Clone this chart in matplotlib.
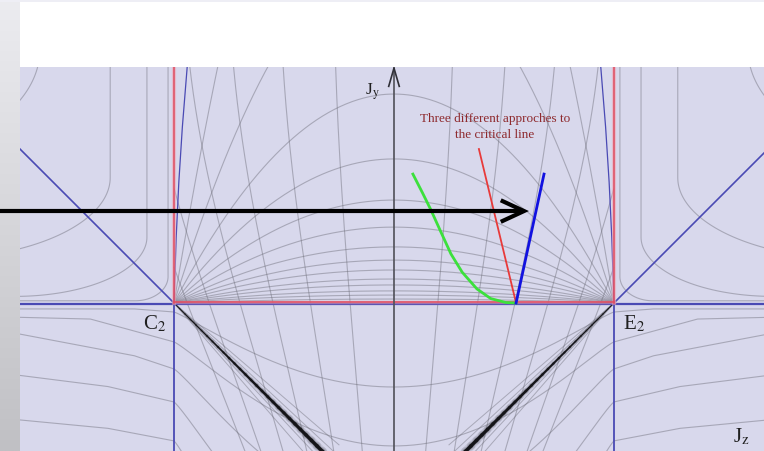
import matplotlib
matplotlib.use("Agg")
import matplotlib.pyplot as plt
import numpy as np
from matplotlib.collections import LineCollection
from matplotlib.patches import Rectangle

plt.rcParams["font.family"] = ["Liberation Serif", "DejaVu Serif"]
plt.rcParams["mathtext.fontset"] = "stix"

# coordinates: C2 at Jz=-1, E2 at Jz=+1, critical line at Jy=0
x_lim = (-1.700, 1.682)
y_lim = (-0.673, 1.073)

# dome flows between C2 and E2 (height at Jz=0)
dome_heights = [0.018, 0.036, 0.055, 0.082, 0.109, 0.15, 0.195, 0.255,
                0.345, 0.468, 0.655, 0.95, 1.6, 3.0]
# near-vertical flows, Jz position where they cross Jy=0
vertical_mid_x = [0.2, 0.38, 0.55, 0.70, 0.84, 0.94]
# valley flows below the critical line
valley_corner_y = [-0.041, -0.177, -0.30, -0.45, -0.627]
valley_center_y = [-0.382, -0.65, -0.95, -1.3, -1.7]
# outer lower flows (u = distance outside the corner)
outer_knee_u = [0.18, 0.38, 0.18, 0.30, 0.30]
outer_knee_y = [-0.027, -0.073, -0.24, -0.38, -0.57]
outer_edge_y = [-0.027, -0.064, -0.132, -0.323, -0.527]
# outer upper rounded flows
lcurve_u0 = [0.027, 0.123, 0.29, 0.61]
lcurve_knee_v = [0.12, 0.30, 0.57, 1.15]
lcurve_flat_v = [0.01, 0.03, 0.20, 0.60]
lcurve_radius_u = [0.15, 0.60, 0.80, 1.00]
# flows hugging the critical diagonals
fan_slopes = [0.86, 0.93, 1.07, 1.15]

# three approaches to the critical point
green_x = [0.086, 0.13, 0.168, 0.21, 0.259, 0.31, 0.377, 0.44, 0.509, 0.555]
green_y = [0.586, 0.50, 0.423, 0.33, 0.223, 0.14, 0.064, 0.02, 0.002, 0.0]
red_x = [0.386, 0.555]
red_y = [0.70, 0.0]
blue_x = [0.682, 0.555]
blue_y = [0.586, 0.0]

# thin blue separatrices near the red verticals
sep_x = [0.94, 0.962, 0.978, 0.99, 1.0]
sep_y = [1.073, 0.8, 0.55, 0.3, 0.0]

GRAY = dict(color="#6c6c78", lw=0.8, alpha=0.45, zorder=2)
BLUE = "#4a4ab4"
RED = "#e04a5e"

fig = plt.figure(figsize=(7.64, 4.52), dpi=100)
fig.patch.set_facecolor("white")
fig.patches.append(Rectangle((0, 1 - 3 / 452), 1, 3 / 452, transform=fig.transFigure,
                             facecolor="#eeeef5", edgecolor="none"))

strip = fig.add_axes([0, 0, 20 / 764, 1])
grad = np.linspace(0, 1, 256).reshape(-1, 1)
strip.imshow(grad, aspect="auto", cmap=matplotlib.colors.LinearSegmentedColormap.from_list(
    "strip", ["#ececf0", "#c0c0c4"]), extent=(0, 1, 0, 1), origin="upper")
strip.axis("off")

ax = fig.add_axes([20 / 764, 0, 744 / 764, 384 / 452])
ax.set_xlim(*x_lim)
ax.set_ylim(*y_lim)
ax.axis("off")
ax.add_patch(Rectangle((x_lim[0], y_lim[0]), x_lim[1] - x_lim[0], y_lim[1] - y_lim[0],
                       facecolor="#d8d8ec", edgecolor="none", zorder=0))

# domes
xs = np.linspace(-1, 1, 300)
for h in dome_heights:
    ax.plot(xs, h * (1 - xs ** 2), **GRAY)

# near-vertical flows
ys = np.linspace(y_lim[0], y_lim[1], 300)
for m in vertical_mid_x:
    for sgn in (-1, 1):
        xv = sgn * m * np.exp(0.4 * ys - 0.128 * ys ** 2)
        xv = np.where(np.abs(xv) > 1.0, np.nan, xv)
        ax.plot(xv, ys, **GRAY)

# valleys
for yc, y0 in zip(valley_corner_y, valley_center_y):
    ax.plot(xs, yc + (y0 - yc) * (1 - xs ** 2) ** 1.15, **GRAY)

# outer lower flows
for yc, ku, ky, ey in zip(valley_corner_y, outer_knee_u, outer_knee_y, outer_edge_y):
    for sgn in (-1, 1):
        ax.plot([sgn * 1.0, sgn * (1 + ku), sgn * 1.75], [yc, ky, ey], **GRAY)

# outer upper rounded flows
theta = np.linspace(0, np.pi / 2, 80)
for u0, vk, v0, ru in zip(lcurve_u0, lcurve_knee_v, lcurve_flat_v, lcurve_radius_u):
    u = np.concatenate([[u0], u0 + ru * (1 - np.cos(theta)), [1.0]])
    v = np.concatenate([[1.2], v0 + (vk - v0) * (1 - np.sin(theta)), [v0]])
    for sgn in (-1, 1):
        ax.plot(sgn * (1 + u), v, **GRAY)

# fan lines around the critical diagonals
for s in fan_slopes:
    for sgn in (-1, 1):
        ax.plot([sgn * 1.0, sgn * 0.25], [0, -s * 0.75], color="#60606a", lw=0.7,
                alpha=0.4, zorder=2)

# black diagonals, thickening away from the corners
for sgn in (-1, 1):
    t = np.linspace(0, 0.75, 31)
    px = sgn * (1 - t)
    py = -t
    segs = [[(px[i], py[i]), (px[i + 1], py[i + 1])] for i in range(len(t) - 1)]
    widths = np.linspace(0.6, 2.8, len(segs))
    ax.add_collection(LineCollection(segs, linewidths=widths * 2.4, colors="#303038",
                                     alpha=0.12, zorder=3, capstyle="round"))
    ax.add_collection(LineCollection(segs, linewidths=widths * 1.5, colors="#303038",
                                     alpha=0.2, zorder=3, capstyle="round"))
    ax.add_collection(LineCollection(segs, linewidths=widths, colors="#141418",
                                     zorder=4, capstyle="round"))

# blue structure
ax.plot([x_lim[0], x_lim[1]], [-0.004, -0.004], color=BLUE, lw=1.6, zorder=5)
ax.plot([-1, -1], [0, y_lim[0]], color=BLUE, lw=1.3, zorder=5)
ax.plot([1, 1], [0, y_lim[0]], color=BLUE, lw=1.3, zorder=5)
ax.plot([-1, -1.75], [0, 0.75], color=BLUE, lw=1.2, zorder=5)
ax.plot([1, 1.75], [0, 0.75], color=BLUE, lw=1.2, zorder=5)
ax.plot([-v for v in sep_x], sep_y, color=BLUE, lw=0.9, zorder=5)
ax.plot(sep_x, sep_y, color=BLUE, lw=0.9, zorder=5)

# red critical box
for xr in (-1, 1):
    ax.plot([xr, xr], [0, y_lim[1]], color="#f0a0b0", lw=3.0, alpha=0.5, zorder=5)
    ax.plot([xr, xr], [0, y_lim[1]], color=RED, lw=1.1, zorder=6)
ax.plot([-1, 1], [0.004, 0.004], color="#f0a0b0", lw=2.5, alpha=0.5, zorder=5)
ax.plot([-1, 1], [0.004, 0.004], color=RED, lw=1.1, zorder=6)

# Jy axis
ax.plot([0, 0], [y_lim[0], y_lim[1]], color="#505058", lw=1.2, zorder=6)
ax.plot([-0.024, 0, 0.024], [0.985, 1.068, 0.985], color="#303038", lw=1.2, zorder=6)

# three approaches
ax.plot(green_x, green_y, color="#3ce03c", lw=2.0, zorder=7)
ax.plot(red_x, red_y, color="#e83a3a", lw=1.3, zorder=7)
ax.plot(blue_x, blue_y, color="#1212e0", lw=2.0, zorder=7)

ax.text(0.459, 0.805, "Three different approches to\nthe critical line", color="#8e2a2e",
        fontsize=9.5, ha="center", va="center", linespacing=1.35, zorder=8)

# labels
ax.text(-0.10, 0.965, "J$_\\mathrm{y}$", fontsize=12.5, ha="center", va="center", color="#202020", zorder=8)
ax.text(-1.09, -0.09, "C$_2$", fontsize=15, ha="center", va="center", color="#202020", zorder=8)
ax.text(1.09, -0.09, "E$_2$", fontsize=15, ha="center", va="center", color="#202020", zorder=8)
ax.text(1.577, -0.605, "J$_\\mathrm{z}$", fontsize=15, ha="center", va="center", color="#202020", zorder=8)

# black pointer arrow
ax.plot([-1.80, 0.585], [0.418, 0.418], color="black", lw=3.0, solid_capstyle="butt",
        clip_on=False, zorder=9)
ax.plot([0.494, 0.591, 0.494], [0.463, 0.418, 0.373], color="black", lw=3.0,
        solid_joinstyle="miter", clip_on=False, zorder=9)

fig.savefig("out.png", dpi=100)
